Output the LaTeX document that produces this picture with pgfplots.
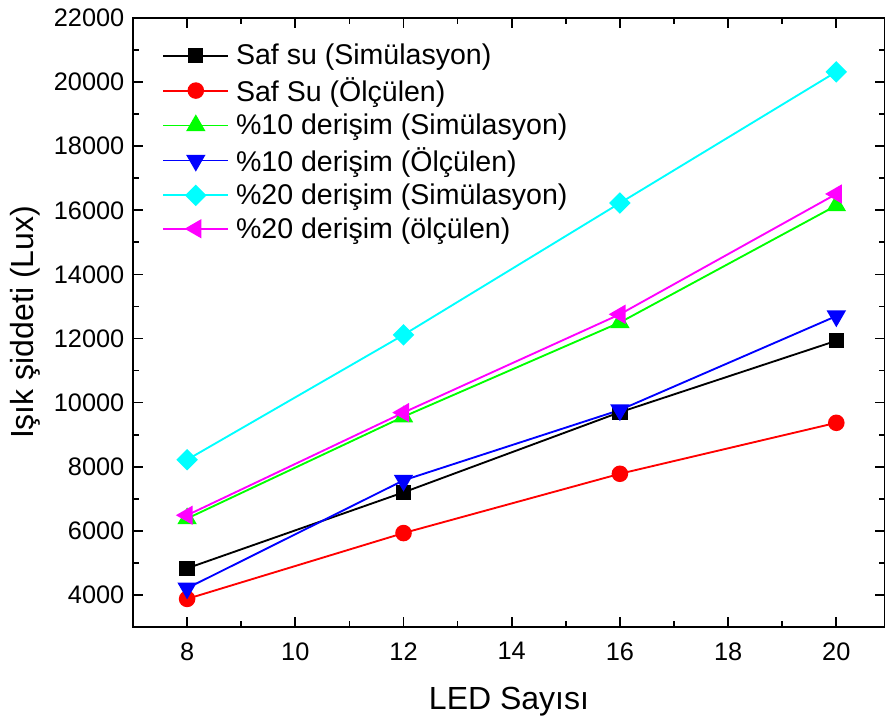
\documentclass[border=0pt]{standalone}
\usepackage{fontspec}
\setmainfont{Liberation Sans}
\usepackage{pgfplots}
\pgfplotsset{compat=1.18}
\definecolor{cgreen}{RGB}{0,255,0}
\definecolor{ccyan}{RGB}{0,255,255}
\definecolor{cmag}{RGB}{255,0,255}
\definecolor{cred}{RGB}{255,0,0}
\definecolor{cblue}{RGB}{0,0,255}
\begin{document}
\begin{tikzpicture}
\begin{axis}[
  at={(0,0)}, anchor=south west,
  scale only axis,
  width=564pt, height=456.75pt,
  xmin=7, xmax=20.9, ymin=3000, ymax=22000,
  xtick={8,10,12,14,16,18,20},
  ytick={4000,6000,8000,10000,12000,14000,16000,18000,20000,22000},
  minor xtick={7,9,11,13,15,17,19},
  minor ytick={3000,5000,7000,9000,11000,13000,15000,17000,19000,21000},
  tick pos=both, tick align=inside,
  major tick length=7.5pt, minor tick length=4.5pt,
  every tick/.style={black, line width=1.3pt},
  axis line style={line width=1.6pt},
  /pgf/number format/assume math mode=true,
  /pgf/number format/1000 sep={},
  scaled y ticks=false,
  ticklabel style={font=\fontsize{19}{20}\selectfont},
  xticklabel style={yshift=-8pt},
  yticklabel style={xshift=-3pt},
  xlabel={LED Sayısı},
  ylabel={Işık şiddeti (Lux)},
  label style={font=\fontsize{24}{26}\selectfont},
  xlabel style={at={(axis description cs:0.5,-0.123)}, anchor=center},
  ylabel style={at={(axis description cs:-0.143,0.5)}, anchor=center, rotate=0},
  legend cell align=left,
  legend style={draw=none, fill=none, at={(axis description cs:0.035,0.966)}, anchor=north west,
    font=\fontsize{21.4}{23}\selectfont, row sep=4pt, inner sep=2pt,
    /tikz/every odd column/.append style={column sep=3pt}},
  legend image code/.code={\draw[mark repeat=2,mark phase=2] plot coordinates {(0cm,0cm) (0.86cm,0cm) (1.72cm,0cm)};},
  every axis plot/.append style={line width=1.4pt},
]
\addplot[black, mark=square*, mark size=5pt, mark options={solid}] coordinates {(8,4830) (12,7200) (16,9700) (20,11930)};
\addlegendentry{Saf su (Simülasyon)}
\addplot[cred, mark=*, mark size=5.5pt] coordinates {(8,3876) (12,5930) (16,7780) (20,9370)};
\addlegendentry{Saf Su (Ölçülen)}
\addplot[cgreen, mark=triangle*, mark size=7pt] coordinates {(8,6384) (12,9560) (16,12500) (20,16150)};
\addlegendentry{\%10 derişim (Simülasyon)}
\addplot[cblue, mark=triangle*, mark size=7pt, mark options={rotate=180}] coordinates {(8,4210) (12,7575) (16,9770) (20,12700)};
\addlegendentry{\%10 derişim (Ölçülen)}
\addplot[ccyan, mark=square*, mark size=5pt, mark options={rotate=45}] coordinates {(8,8218) (12,12113) (16,16226) (20,20320)};
\addlegendentry{\%20 derişim (Simülasyon)}
\addplot[cmag, mark=triangle*, mark size=7pt, mark options={rotate=90}] coordinates {(8,6487) (12,9690) (16,12756) (20,16510)};
\addlegendentry{\%20 derişim (ölçülen)}
\end{axis}
\pgfresetboundingbox
\useasboundingbox (-99.75pt,-72pt) rectangle (564pt,470.25pt);
\end{tikzpicture}
\end{document}
